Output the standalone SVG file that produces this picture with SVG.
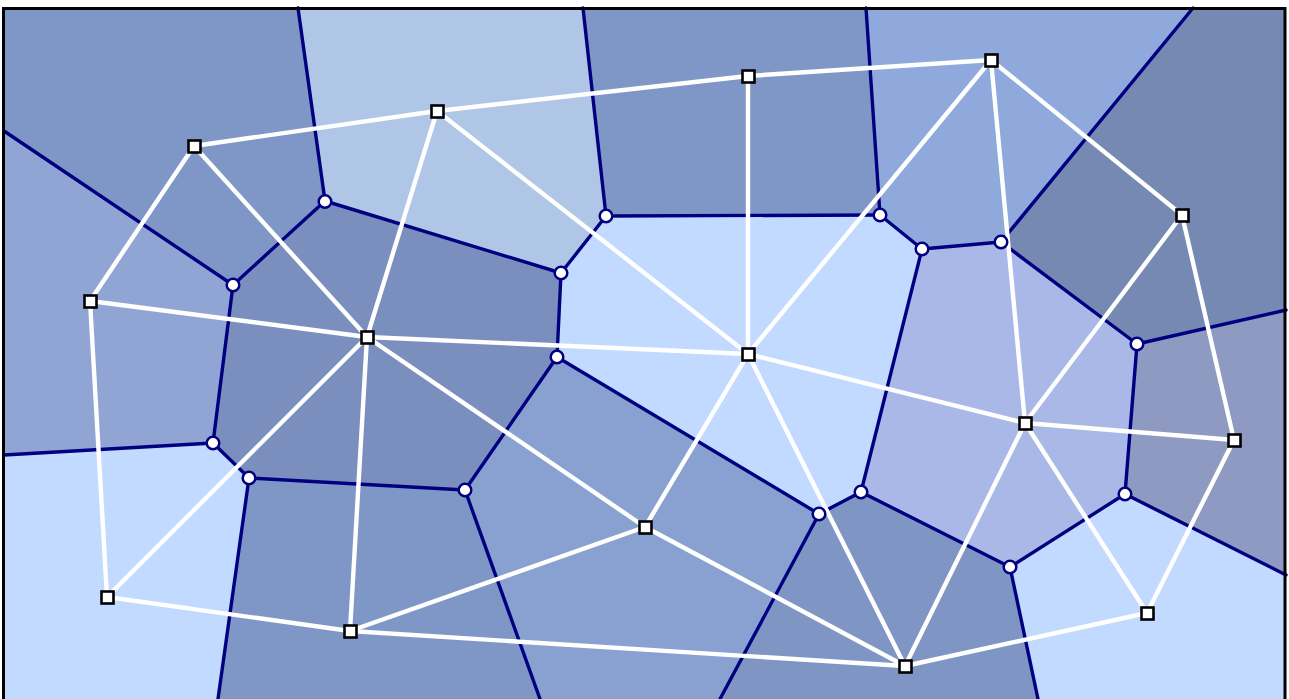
<svg xmlns="http://www.w3.org/2000/svg" width="1289" height="699" viewBox="0 0 1289 699">
<style>
.vor{stroke:#000080;stroke-width:3.4;fill:none;stroke-linecap:round;stroke-linejoin:round}
.del{stroke:#ffffff;stroke-width:4.4;fill:none;stroke-linecap:round}
.site{fill:#ffffff;stroke:#000000;stroke-width:2.6}
.vtx{fill:#ffffff;stroke:#000080;stroke-width:2.5}
.cell{stroke:none}
</style>
<rect x="0" y="0" width="1289" height="699" fill="#ffffff"/>
<g id="cells">
<polygon id="cell-s1" class="cell" fill="#7f97c6" points="4,8 298,8 325,201 233,285 4,131"/>
<polygon id="cell-s2" class="cell" fill="#b0c6e6" points="298,8 583,8 606,216 561,273 325,201"/>
<polygon id="cell-s3" class="cell" fill="#7f97c6" points="583,8 866,8 880,215 606,216"/>
<polygon id="cell-s4" class="cell" fill="#8fa9dc" points="866,8 1193,8 1001,242 922,249 880,215"/>
<polygon id="cell-s5" class="cell" fill="#7689b3" points="1193,8 1286,8 1286,310 1137,344 1001,242"/>
<polygon id="cell-s6" class="cell" fill="#91a5d4" points="4,131 233,285 213,443 4,455"/>
<polygon id="cell-s7" class="cell" fill="#7b8fbf" points="325,201 561,273 557,357 465,490 249,478 213,443 233,285"/>
<polygon id="cell-s8" class="cell" fill="#c2daff" points="606,216 880,215 922,249 861,492 819,514 557,357 561,273"/>
<polygon id="cell-s9" class="cell" fill="#a9b8e6" points="922,249 1001,242 1137,344 1125,494 1010,567 861,492"/>
<polygon id="cell-s10" class="cell" fill="#8e9ac2" points="1137,344 1286,310 1286,575 1125,494"/>
<polygon id="cell-s11" class="cell" fill="#c2daff" points="4,455 213,443 249,478 218,699 4,699"/>
<polygon id="cell-s12" class="cell" fill="#7f97c6" points="249,478 465,490 540,699 218,699"/>
<polygon id="cell-s13" class="cell" fill="#88a1d0" points="557,357 819,514 720,699 540,699 465,490"/>
<polygon id="cell-s14" class="cell" fill="#7f96c5" points="819,514 861,492 1010,567 1038,699 720,699"/>
<polygon id="cell-s15" class="cell" fill="#c2daff" points="1010,567 1125,494 1286,575 1286,699 1038,699"/>
</g>
<g id="connectors">
<g id="voronoi-edges" class="vor">
<line x1="298" y1="8" x2="325" y2="201"/>
<line x1="325" y1="201" x2="233" y2="285"/>
<line x1="233" y1="285" x2="4" y2="131"/>
<line x1="325" y1="201" x2="561" y2="273"/>
<line x1="561" y1="273" x2="606" y2="216"/>
<line x1="606" y1="216" x2="583" y2="8"/>
<line x1="606" y1="216" x2="880" y2="215"/>
<line x1="880" y1="215" x2="866" y2="8"/>
<line x1="880" y1="215" x2="922" y2="249"/>
<line x1="922" y1="249" x2="1001" y2="242"/>
<line x1="1001" y1="242" x2="1193" y2="8"/>
<line x1="1001" y1="242" x2="1137" y2="344"/>
<line x1="1137" y1="344" x2="1286" y2="310"/>
<line x1="561" y1="273" x2="557" y2="357"/>
<line x1="557" y1="357" x2="465" y2="490"/>
<line x1="557" y1="357" x2="819" y2="514"/>
<line x1="922" y1="249" x2="861" y2="492"/>
<line x1="861" y1="492" x2="819" y2="514"/>
<line x1="861" y1="492" x2="1010" y2="567"/>
<line x1="1010" y1="567" x2="1125" y2="494"/>
<line x1="1125" y1="494" x2="1137" y2="344"/>
<line x1="1125" y1="494" x2="1286" y2="575"/>
<line x1="1010" y1="567" x2="1038" y2="699"/>
<line x1="819" y1="514" x2="720" y2="699"/>
<line x1="465" y1="490" x2="540" y2="699"/>
<line x1="465" y1="490" x2="249" y2="478"/>
<line x1="249" y1="478" x2="213" y2="443"/>
<line x1="213" y1="443" x2="4" y2="455"/>
<line x1="213" y1="443" x2="233" y2="285"/>
<line x1="249" y1="478" x2="218" y2="699"/>
</g>
<g id="delaunay-edges" class="del">
<line x1="194" y1="146" x2="437" y2="111"/>
<line x1="437" y1="111" x2="748" y2="76"/>
<line x1="748" y1="76" x2="991" y2="60"/>
<line x1="194" y1="146" x2="90" y2="301"/>
<line x1="194" y1="146" x2="367" y2="337"/>
<line x1="437" y1="111" x2="367" y2="337"/>
<line x1="437" y1="111" x2="748" y2="354"/>
<line x1="748" y1="76" x2="748" y2="354"/>
<line x1="991" y1="60" x2="748" y2="354"/>
<line x1="991" y1="60" x2="1025" y2="423"/>
<line x1="991" y1="60" x2="1182" y2="215"/>
<line x1="1182" y1="215" x2="1025" y2="423"/>
<line x1="1182" y1="215" x2="1234" y2="440"/>
<line x1="90" y1="301" x2="367" y2="337"/>
<line x1="90" y1="301" x2="107" y2="597"/>
<line x1="367" y1="337" x2="107" y2="597"/>
<line x1="367" y1="337" x2="748" y2="354"/>
<line x1="367" y1="337" x2="350" y2="631"/>
<line x1="367" y1="337" x2="645" y2="527"/>
<line x1="748" y1="354" x2="1025" y2="423"/>
<line x1="748" y1="354" x2="645" y2="527"/>
<line x1="748" y1="354" x2="905" y2="666"/>
<line x1="1025" y1="423" x2="1234" y2="440"/>
<line x1="1025" y1="423" x2="905" y2="666"/>
<line x1="1025" y1="423" x2="1147" y2="613"/>
<line x1="1234" y1="440" x2="1147" y2="613"/>
<line x1="107" y1="597" x2="350" y2="631"/>
<line x1="350" y1="631" x2="645" y2="527"/>
<line x1="350" y1="631" x2="905" y2="666"/>
<line x1="645" y1="527" x2="905" y2="666"/>
<line x1="905" y1="666" x2="1147" y2="613"/>
</g>
</g>
<g id="vertices">
<g id="v1"><circle class="vtx" cx="325" cy="201.5" r="6.3"/></g>
<g id="v2"><circle class="vtx" cx="233" cy="285" r="6.3"/></g>
<g id="v3"><circle class="vtx" cx="606" cy="216" r="6.3"/></g>
<g id="v4"><circle class="vtx" cx="561" cy="273" r="6.3"/></g>
<g id="v5"><circle class="vtx" cx="880" cy="215" r="6.3"/></g>
<g id="v6"><circle class="vtx" cx="922" cy="249" r="6.3"/></g>
<g id="v7"><circle class="vtx" cx="1001" cy="242" r="6.3"/></g>
<g id="v8"><circle class="vtx" cx="557" cy="357" r="6.3"/></g>
<g id="v9"><circle class="vtx" cx="1137" cy="344" r="6.3"/></g>
<g id="v10"><circle class="vtx" cx="213" cy="443" r="6.3"/></g>
<g id="v11"><circle class="vtx" cx="249" cy="478" r="6.3"/></g>
<g id="v12"><circle class="vtx" cx="465" cy="490" r="6.3"/></g>
<g id="v13"><circle class="vtx" cx="861" cy="492" r="6.3"/></g>
<g id="v14"><circle class="vtx" cx="819" cy="514" r="6.3"/></g>
<g id="v15"><circle class="vtx" cx="1125" cy="494" r="6.3"/></g>
<g id="v16"><circle class="vtx" cx="1010" cy="567" r="6.3"/></g>
</g>
<g id="sites">
<g id="s1"><rect class="site" x="188.5" y="140.5" width="12" height="12"/></g>
<g id="s2"><rect class="site" x="431.5" y="105.5" width="12" height="12"/></g>
<g id="s3"><rect class="site" x="742.5" y="70.5" width="12" height="12"/></g>
<g id="s4"><rect class="site" x="985.5" y="54.5" width="12" height="12"/></g>
<g id="s5"><rect class="site" x="1176.5" y="209.5" width="12" height="12"/></g>
<g id="s6"><rect class="site" x="84.5" y="295.5" width="12" height="12"/></g>
<g id="s7"><rect class="site" x="361.5" y="331.5" width="12" height="12"/></g>
<g id="s8"><rect class="site" x="742.5" y="348.5" width="12" height="12"/></g>
<g id="s9"><rect class="site" x="1019.5" y="417.5" width="12" height="12"/></g>
<g id="s10"><rect class="site" x="1228.5" y="434.5" width="12" height="12"/></g>
<g id="s11"><rect class="site" x="101.5" y="591.5" width="12" height="12"/></g>
<g id="s12"><rect class="site" x="344.5" y="625.5" width="12" height="12"/></g>
<g id="s13"><rect class="site" x="639.5" y="521.5" width="12" height="12"/></g>
<g id="s14"><rect class="site" x="899.5" y="660.5" width="12" height="12"/></g>
<g id="s15"><rect class="site" x="1141.5" y="607.5" width="12" height="12"/></g>
</g>
<rect id="frame" x="3.5" y="8.5" width="1281.5" height="710" fill="none" stroke="#000000" stroke-width="3"/>
</svg>
